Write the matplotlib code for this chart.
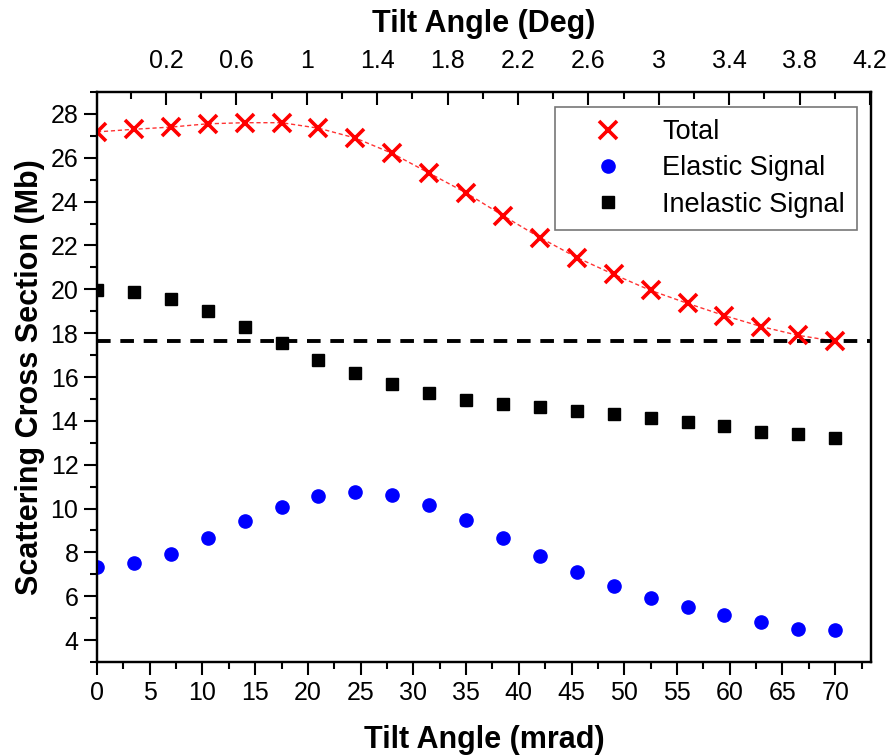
import numpy as np
import matplotlib
matplotlib.use("Agg")
import matplotlib.pyplot as plt
from matplotlib.ticker import MultipleLocator, FixedLocator

plt.rcParams['font.family'] = ['Liberation Sans', 'DejaVu Sans']

# data
tilt_mrad = [0, 3.5, 7, 10.5, 14, 17.5, 21, 24.5, 28, 31.5, 35,
             38.5, 42, 45.5, 49, 52.5, 56, 59.5, 63, 66.5, 70]
total = [27.18, 27.3, 27.4, 27.55, 27.6, 27.6, 27.35, 26.9, 26.2, 25.3, 24.4,
         23.36, 22.36, 21.45, 20.68, 19.95, 19.36, 18.8, 18.3, 17.9, 17.63]
elastic = [7.32, 7.5, 7.95, 8.64, 9.41, 10.09, 10.59, 10.77, 10.64, 10.18, 9.5,
           8.68, 7.82, 7.09, 6.45, 5.91, 5.5, 5.14, 4.82, 4.5, 4.45]
inelastic = [19.95, 19.9, 19.55, 19.0, 18.27, 17.55, 16.77, 16.18, 15.66, 15.27, 14.95,
             14.77, 14.64, 14.45, 14.32, 14.14, 13.95, 13.77, 13.5, 13.41, 13.23]
ref_level = 17.63

y_ticks = [4, 6, 8, 10, 12, 14, 16, 18, 20, 22, 24, 26, 28]
top_major = [0.2, 0.6, 1.0, 1.4, 1.8, 2.2, 2.6, 3.0, 3.4, 3.8, 4.2]
top_minor = [0.0, 0.4, 0.8, 1.2, 1.6, 2.0, 2.4, 2.8, 3.2, 3.6, 4.0]

fig = plt.figure(figsize=(8.91, 7.56), dpi=100)
ax = fig.add_axes([0.1089, 0.1243, 0.8687, 0.754])

ax.plot(tilt_mrad, total, '--', color='red', lw=1.0, dashes=(3, 2), alpha=0.8, zorder=2)
ax.plot(tilt_mrad, total, 'x', color='red', ms=13, mew=2.6, ls='none', label='Total', zorder=3)
ax.plot(tilt_mrad, elastic, 'o', color='blue', ms=9.5, ls='none', label='Elastic Signal', zorder=3)
ax.plot(tilt_mrad, inelastic, 's', color='black', ms=8, ls='none', label='Inelastic Signal', zorder=3)
ax.axhline(ref_level, color='black', lw=2.8, ls=(0, (3.5, 2.5)), zorder=2)

ax.set_xlim(0, 73.4)
ax.set_ylim(3, 29)
ax.xaxis.set_major_locator(MultipleLocator(5))
ax.xaxis.set_minor_locator(MultipleLocator(2.5))
ax.set_yticks(y_ticks)
ax.yaxis.set_minor_locator(MultipleLocator(1))

ax.tick_params(which='both', direction='out', top=False, right=False, width=1.5, labelsize=18)
ax.tick_params(which='major', length=9.4, pad=4)
ax.tick_params(which='minor', length=5)
for s in ax.spines.values():
    s.set_linewidth(1.6)

ax.set_xlabel('Tilt Angle (mrad)', fontsize=22, fontweight='bold', labelpad=15)
ax.set_ylabel('Scattering Cross Section (Mb)', fontsize=22, fontweight='bold', labelpad=4)

ax2 = ax.twiny()
ax2.set_xlim(-0.192, 4.206)
ax2.xaxis.set_major_locator(FixedLocator(top_major))
ax2.xaxis.set_minor_locator(FixedLocator(top_minor))
ax2.xaxis.set_major_formatter(plt.FuncFormatter(lambda v, p: f"{v:g}"))
ax2.tick_params(which='both', direction='in', width=1.5, labelsize=18)
ax2.tick_params(which='major', length=9.4, pad=14)
ax2.tick_params(which='minor', length=5)
ax2.set_xlabel('Tilt Angle (Deg)', fontsize=22, fontweight='bold', labelpad=12)
for s in ax2.spines.values():
    s.set_linewidth(1.6)

leg = ax.legend(loc='upper right', bbox_to_anchor=(0.982, 0.974), borderaxespad=0,
                fontsize=19.5, frameon=True, fancybox=False, edgecolor='#555555',
                borderpad=0.45, labelspacing=0.38, handletextpad=0.5, handlelength=3.0)
leg.get_frame().set_linewidth(1.2)

fig.savefig('out.png', dpi=100)
